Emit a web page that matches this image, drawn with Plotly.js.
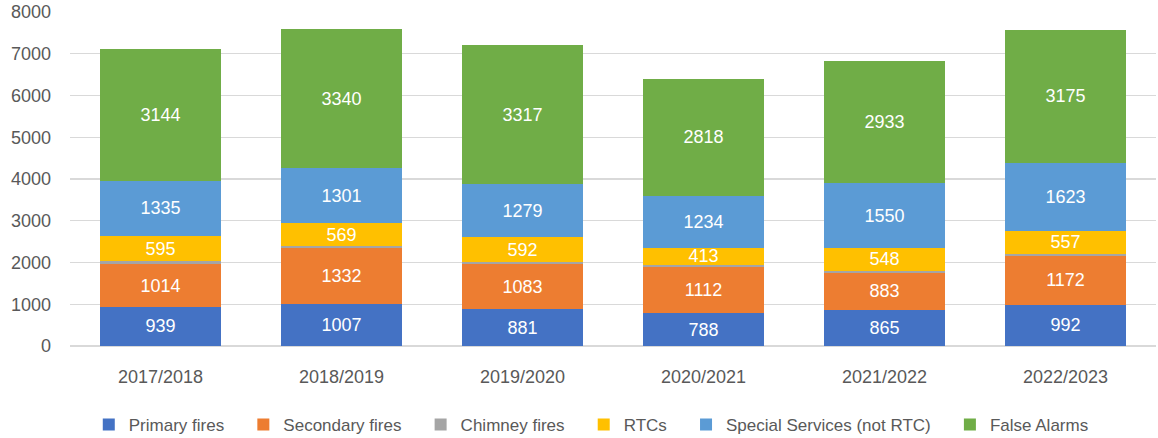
<!DOCTYPE html>
<html>
<head>
<meta charset="utf-8">
<script src="https://cdn.plot.ly/plotly-3.0.1.min.js"></script>
<style>html,body{margin:0;padding:0;background:#fff;}#chart{width:1158px;height:438px;}</style>
</head>
<body>
<div id="chart"></div>
<script>
const categories = ["2017/2018","2018/2019","2019/2020","2020/2021","2021/2022","2022/2023"];
const primaryFires = [939,1007,881,788,865,992];
const secondaryFires = [1014,1332,1083,1112,883,1172];
const chimneyFires = [80,45,50,40,50,45];
const rtcs = [595,569,592,413,548,557];
const specialServices = [1335,1301,1279,1234,1550,1623];
const falseAlarms = [3144,3340,3317,2818,2933,3175];

const seriesNames = ["Primary fires","Secondary fires","Chimney fires","RTCs","Special Services (not RTC)","False Alarms"];
const seriesValues = [primaryFires,secondaryFires,chimneyFires,rtcs,specialServices,falseAlarms];
const colors = ["#4472C4","#ED7D31","#A5A5A5","#FFC000","#5B9BD5","#70AD47"];
const showLabels = [true,true,false,true,true,true];

const font = "Liberation Sans, Arial, sans-serif";
const pad = "\u00A0\u00A0\u00A0";
const traces = seriesNames.map((n,i)=>({
  type:"bar", name: n + (i < seriesNames.length-1 ? pad : ""), x:categories, y:seriesValues[i],
  marker:{color:colors[i]},
  text: showLabels[i] ? seriesValues[i].map(String) : null,
  texttemplate: showLabels[i] ? "%{text}" : "",
  textposition: showLabels[i] ? "inside" : "none",
  insidetextanchor:"middle",
  constraintext:"none",
  textfont:{color:"#ffffff", size:18, family:font},
  hoverinfo:"skip"
}));

const layout = {
  width:1158, height:438,
  barmode:"stack", bargap:0.33,
  margin:{l:70,r:2,t:12,b:92, autoexpand:false},
  paper_bgcolor:"#fff", plot_bgcolor:"#fff",
  font:{family:font, color:"#595959", size:18},
  xaxis:{automargin:false, showgrid:false, showline:false, zeroline:false, ticks:"", ticklabelstandoff:18, tickfont:{size:18,color:"#595959"}},
  yaxis:{automargin:false, range:[0,8000], dtick:1000, showgrid:true, gridcolor:"#D9D9D9", gridwidth:1.3, zeroline:true, zerolinecolor:"#D9D9D9", zerolinewidth:1.3, showline:false, ticks:"", ticklabelstandoff:18, tickfont:{size:18,color:"#595959"}},
  showlegend:true,
  legend:{orientation:"h", x:0.48, xanchor:"center", yref:"container", y:0.03, yanchor:"middle", font:{size:17,color:"#595959"}, itemwidth:30, traceorder:"normal"}
};
Plotly.newPlot("chart", traces, layout, {displayModeBar:false, staticPlot:true});
</script>
</body>
</html>
